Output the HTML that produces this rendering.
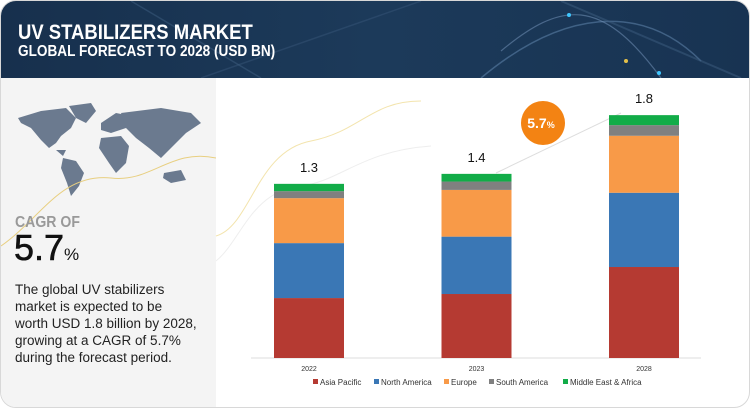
<!DOCTYPE html>
<html><head><meta charset="utf-8"><style>
body{margin:0;width:750px;height:410px;background:#fff;font-family:"Liberation Sans",sans-serif;overflow:hidden;position:relative}
#card{position:absolute;left:0;top:0;width:748px;height:406px;border:1px solid #d8d8d8;border-radius:16px;overflow:hidden;background:#fff}
#hdr{position:absolute;left:0;top:0;width:750px;height:77px;background:linear-gradient(90deg,#17304d,#1c3a5a 50%,#183352)}
#left{position:absolute;left:0;top:77px;width:215px;height:333px;background:#f4f4f4}
.t{position:absolute;white-space:nowrap}
</style></head><body>
<div id="card">
<div id="hdr">
<svg width="750" height="77" style="position:absolute;left:0;top:0">
<path d="M480 77 C560 10,640 0,700 60" stroke="#5a7fa5" stroke-width="1.5" fill="none" opacity=".6"/>
<path d="M500 50 C560 0,600 -5,660 77" stroke="#7a9ac0" stroke-width="1.2" fill="none" opacity=".5"/>
<path d="M560 0 L740 77" stroke="#3e5d80" stroke-width="2" fill="none" opacity=".5"/>
<path d="M130 0 L260 77" stroke="#3e5d80" stroke-width="1.5" fill="none" opacity=".5"/>
<path d="M200 77 L420 0" stroke="#3e5d80" stroke-width="1.5" fill="none" opacity=".4"/>
<circle cx="568" cy="14" r="2" fill="#3fc6ff"/><circle cx="658" cy="72" r="2" fill="#3fc6ff"/><circle cx="625" cy="60" r="2" fill="#e5c04a"/>
</svg>
<div class="t" style="left:17px;top:20px;font-size:21px;font-weight:bold;color:#fff;transform:scaleX(.88);transform-origin:left">UV STABILIZERS MARKET</div>
<div class="t" style="left:17px;top:42px;font-size:16px;font-weight:bold;color:#fff;transform:scaleX(.85);transform-origin:left">GLOBAL FORECAST TO 2028 (USD BN)</div>
</div>
<div id="left">
<svg width="215" height="130" style="position:absolute;left:0;top:0">
<g fill="#6b7a8f">
<path d="M17 40 L40 33 L65 30 L75 40 L70 50 L60 58 L55 65 L48 70 L40 62 L30 50 L20 45Z"/>
<path d="M68 28 L90 25 L95 33 L85 45 L75 40Z"/>
<path d="M55 72 L65 72 L62 78Z"/>
<path d="M62 80 L75 83 L83 95 L78 108 L70 118 L66 105 L60 90Z"/>
<path d="M100 45 L115 35 L130 38 L125 50 L110 55 L100 52Z"/>
<path d="M100 60 L120 58 L128 68 L125 85 L115 95 L108 85 L98 70Z"/>
<path d="M120 35 L160 30 L190 35 L200 45 L185 55 L170 70 L160 80 L148 70 L135 60 L125 50Z"/>
<path d="M163 95 L180 92 L185 102 L170 105 L162 100Z"/>
</g></svg>
<svg width="215" height="333" style="position:absolute;left:0;top:0"><path d="M0 168 C40 140,60 95,110 100 C150 105,170 70,215 80" stroke="#e8cf80" stroke-width="1" fill="none"/></svg>
<div class="t" style="left:14px;top:136px;font-size:16px;font-weight:bold;color:#999;transform:scaleX(.88);transform-origin:left">CAGR OF</div>
<div class="t" style="left:13px;top:149px;font-size:36px;color:#111;-webkit-text-stroke:0.6px #111">5.7<span style="font-size:17px;-webkit-text-stroke:0">%</span></div>
<div style="position:absolute;left:14px;top:203px;font-size:13.5px;line-height:17px;color:#222;white-space:nowrap">The global UV stabilizers<br>market is expected to be<br>worth USD 1.8 billion by 2028,<br>growing at a CAGR of 5.7%<br>during the forecast period.</div>
</div>
<svg id="chart" width="750" height="410" style="position:absolute;left:0;top:0">
<path d="M215 260 C240 240,250 190,300 185 C340 180,360 150,430 145" stroke="#eee" stroke-width="1" fill="none"/>
<path d="M215 235 C250 225,255 150,310 140 C360 130,370 100,420 100" stroke="#f3e4ad" stroke-width="1" fill="none"/>
<path d="M495 172 L620 112" stroke="#ddd" stroke-width="1"/>
<circle cx="542" cy="122" r="22" fill="#f38313"/>
<text x="540" y="127" font-size="14" font-weight="bold" fill="#fff" text-anchor="middle">5.7<tspan font-size="9">%</tspan></text>
<line x1="250" y1="357" x2="700" y2="357" stroke="#ddd" stroke-width="1"/>
</svg>
</div>
<script>
const categories=["2022","2023","2028"];
const seriesNames=["Asia Pacific","North America","Europe","South America","Middle East & Africa"];
const asiaPacific=[0.444,0.474,0.674];
const northAmerica=[0.407,0.425,0.55];
const europe=[0.333,0.346,0.422];
const southAmerica=[0.052,0.062,0.079];
const middleEastAfrica=[0.054,0.057,0.074];
const totalLabels=["1.3","1.4","1.8"];
const colors=["#b53a32","#3a77b5","#f89a48","#808080","#12ac48"];
const svg=document.getElementById('chart');
const NS='http://www.w3.org/2000/svg';
const y0=357,scale=135;
const y=v=>y0-v*scale;
const xC=i=>308+i*167.5;
const bw=70;
const series=[asiaPacific,northAmerica,europe,southAmerica,middleEastAfrica];
const keys=['asia-pacific','north-america','europe','south-america','middle-east-africa'];
categories.forEach((c,i)=>{
  let acc=0;
  series.forEach((s,k)=>{
    const r=document.createElementNS(NS,'rect');
    r.setAttribute('x',xC(i)-bw/2);r.setAttribute('width',bw);
    r.setAttribute('y',y(acc+s[i]));r.setAttribute('height',s[i]*scale);
    r.setAttribute('fill',colors[k]);
    
    
    svg.appendChild(r);acc+=s[i];
  });
  const t=document.createElementNS(NS,'text');
  t.setAttribute('x',xC(i));t.setAttribute('y',y(acc)-12);
  t.setAttribute('text-anchor','middle');t.setAttribute('font-size','13');t.setAttribute('fill','#111');
  t.textContent=totalLabels[i];
  
  
  svg.appendChild(t);
  const xl=document.createElementNS(NS,'text');
  xl.setAttribute('x',xC(i));xl.setAttribute('y',370);
  xl.setAttribute('text-anchor','middle');xl.setAttribute('font-size','7');xl.setAttribute('fill','#333');
  xl.textContent=c;
  
  
  svg.appendChild(xl);
});
const legX=[312,373,443,488,562];
seriesNames.forEach((n,k)=>{
  const g=document.createElementNS(NS,'g');
  
  
  const r=document.createElementNS(NS,'rect');
  r.setAttribute('x',legX[k]);r.setAttribute('y',378);r.setAttribute('width',5);r.setAttribute('height',5);r.setAttribute('fill',colors[k]);
  const t=document.createElementNS(NS,'text');
  t.setAttribute('x',legX[k]+7);t.setAttribute('y',384);t.setAttribute('font-size','8');t.setAttribute('fill','#333');
  t.textContent=n;
  g.appendChild(r);g.appendChild(t);svg.appendChild(g);
});
</script>
</body></html>
